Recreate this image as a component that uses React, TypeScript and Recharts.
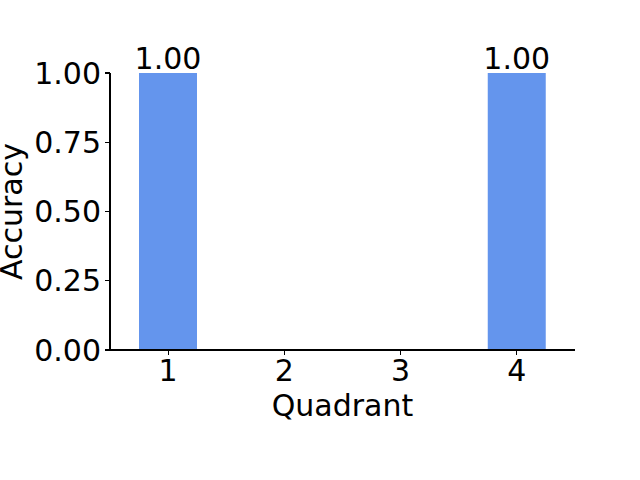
import { BarChart, Bar, XAxis, YAxis, LabelList, Label } from "recharts";

const quadrants = ["1", "2", "3", "4"];
const accuracy = [1.0, 0, 0, 1.0];
const yTicks = [0, 0.25, 0.5, 0.75, 1.0];

const data = quadrants.map((q, i) => ({ quadrant: q, accuracy: accuracy[i] }));

const FONT = "'DejaVu Sans', sans-serif";
const SIZE = 30;

export default function App() {
  return (
    <div style={{ position: "absolute", left: 0, top: 0, width: 640, height: 480, background: "#fff", fontFamily: FONT }}>
      <BarChart
        width={640}
        height={480}
        data={data}
        margin={{ top: 73, right: 65, bottom: 60, left: 0 }}
      >
        <XAxis
          dataKey="quadrant"
          height={70}
          interval={0}
          tickSize={5}
          tickMargin={5}
          stroke="#000"
          axisLine={{ stroke: "#000", strokeWidth: 1.2, shapeRendering: "crispEdges" }}
          tickLine={{ stroke: "#000", strokeWidth: 1.2, shapeRendering: "crispEdges" }}
          tick={{ fontSize: SIZE, fill: "#000", fontFamily: FONT }}
        >
          <Label
            value="Quadrant"
            position="insideBottom"
            offset={4}
            style={{ fontSize: SIZE, fill: "#000", fontFamily: FONT }}
          />
        </XAxis>
        <YAxis
          width={110}
          domain={[0, 1]}
          ticks={yTicks}
          interval={0}
          tickSize={5}
          tickMargin={4}
          stroke="#000"
          tickFormatter={(v: number) => v.toFixed(2)}
          axisLine={{ stroke: "#000", strokeWidth: 1.2, shapeRendering: "crispEdges" }}
          tickLine={{ stroke: "#000", strokeWidth: 1.2, shapeRendering: "crispEdges" }}
          tick={{ fontSize: SIZE, fill: "#000", fontFamily: FONT }}
        >
          <Label
            content={(props: any) => {
              const vb = props.viewBox || { x: 0, y: 73, width: 110, height: 277 };
              const cx = vb.x + 22;
              const cy = vb.y + vb.height / 2;
              return (
                <text
                  x={cx}
                  y={cy}
                  transform={`rotate(-90, ${cx}, ${cy})`}
                  textAnchor="middle"
                  fontSize={SIZE}
                  fill="#000"
                  fontFamily={FONT}
                >
                  Accuracy
                </text>
              );
            }}
          />
        </YAxis>
        <Bar dataKey="accuracy" fill="#6495ED" barSize={58} isAnimationActive={false}>
          <LabelList
            dataKey="accuracy"
            position="top"
            offset={4}
            formatter={(v: any) => (Number(v) > 0 ? Number(v).toFixed(2) : "")}
            style={{ fontSize: SIZE, fill: "#000", fontFamily: FONT }}
          />
        </Bar>
      </BarChart>
    </div>
  );
}
